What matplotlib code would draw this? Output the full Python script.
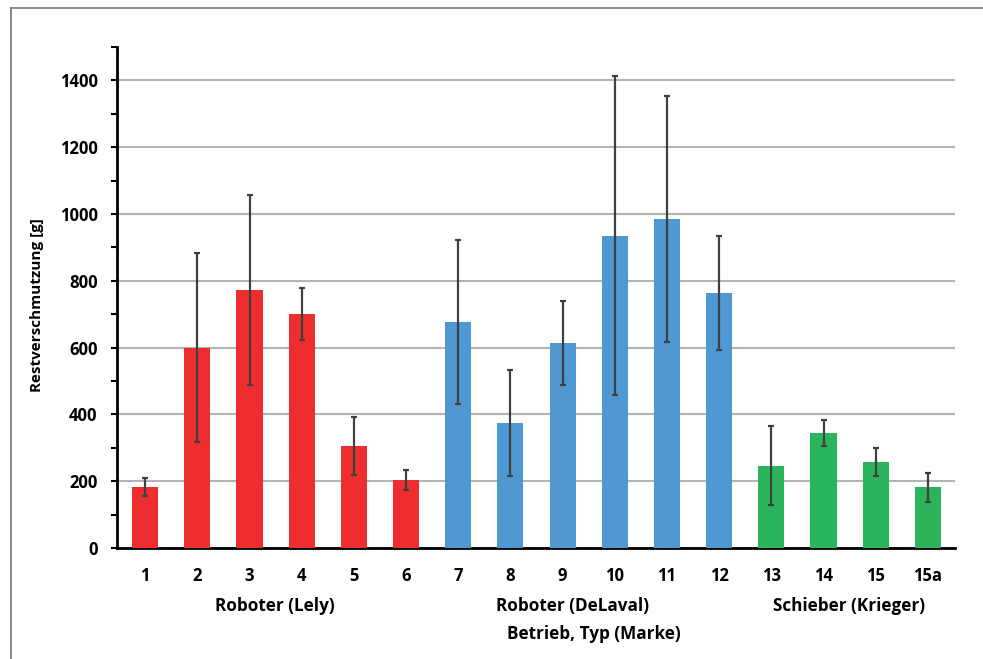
import matplotlib
matplotlib.use("Agg")
import matplotlib.pyplot as plt
from matplotlib.ticker import MultipleLocator
from matplotlib.transforms import blended_transform_factory
from matplotlib.lines import Line2D

categories = ["1", "2", "3", "4", "5", "6", "7", "8", "9", "10", "11", "12", "13", "14", "15", "15a"]
values = [182, 600, 772, 700, 305, 205, 676, 375, 614, 935, 986, 763, 247, 344, 258, 182]
errors = [27, 283, 285, 78, 87, 30, 245, 158, 125, 478, 368, 170, 117, 38, 42, 43]
groups = ["Lely"] * 6 + ["DeLaval"] * 6 + ["Krieger"] * 4
group_colors = {"Lely": "#ED2D2E", "DeLaval": "#4F98D2", "Krieger": "#2AB45B"}
group_labels = ["Roboter (Lely)", "Roboter (DeLaval)", "Schieber (Krieger)"]
group_label_pos = [2.49, 8.18, 13.49]
xlabel = "Betrieb, Typ (Marke)"
ylabel = "Restverschmutzung [g]"

plt.rcParams['font.family'] = ['Open Sans', 'DejaVu Sans']

fig = plt.figure(figsize=(9.83, 6.59), dpi=100)
ax = fig.add_axes([117/983, 1-548/659, (955-117)/983, (548-47)/659])

x = list(range(len(categories)))
colors = [group_colors[g] for g in groups]
ax.bar(x, values, width=0.5, color=colors, zorder=3)
ax.errorbar(x, values, yerr=errors, fmt='none', ecolor='#404040', elinewidth=1.6,
            capsize=2.5, capthick=1.6, zorder=4)

ax.set_xlim(-0.54, 15.52)
ax.set_ylim(0, 1500)
ax.yaxis.set_major_locator(MultipleLocator(200))
ax.yaxis.set_minor_locator(MultipleLocator(100))
ax.set_yticks(range(0, 1401, 200))
ax.grid(axis='y', which='major', color='#B4B4B4', linewidth=1.5, zorder=0)
ax.set_axisbelow(True)

for s in ['top', 'right']:
    ax.spines[s].set_visible(False)
ax.spines['left'].set_linewidth(2)
ax.spines['bottom'].set_linewidth(2)
ax.spines['left'].set_color('black')
ax.spines['bottom'].set_color('black')

ax.set_xticks(x)
ax.set_xticklabels(categories, fontweight='bold', fontsize=12)
ax.tick_params(axis='x', length=0, pad=14)
ax.tick_params(axis='y', which='both', direction='out', length=4, width=1.5, labelsize=12, pad=10)
for lab in ax.get_yticklabels():
    lab.set_fontweight('bold')

fig.text(37/983, 1-305/659, ylabel, rotation=90, ha='center', va='center',
         fontweight='bold', fontsize=11)

tr = blended_transform_factory(ax.transData, fig.transFigure)
for lbl, pos in zip(group_labels, group_label_pos):
    ax.text(pos, 1-606/659, lbl, transform=tr, ha='center', va='center',
            fontweight='bold', fontsize=12.3)
ax.text(8.6, 1-634/659, xlabel, transform=tr, ha='center', va='center',
        fontweight='bold', fontsize=12.3)

# outer frame
fig.add_artist(Line2D([11/983, 11/983], [0, 1-8/659], transform=fig.transFigure,
                      color='#808080', linewidth=1.3))
fig.add_artist(Line2D([11/983, 1], [1-8/659, 1-8/659], transform=fig.transFigure,
                      color='#808080', linewidth=1.3))

fig.savefig("out.png", dpi=100)
